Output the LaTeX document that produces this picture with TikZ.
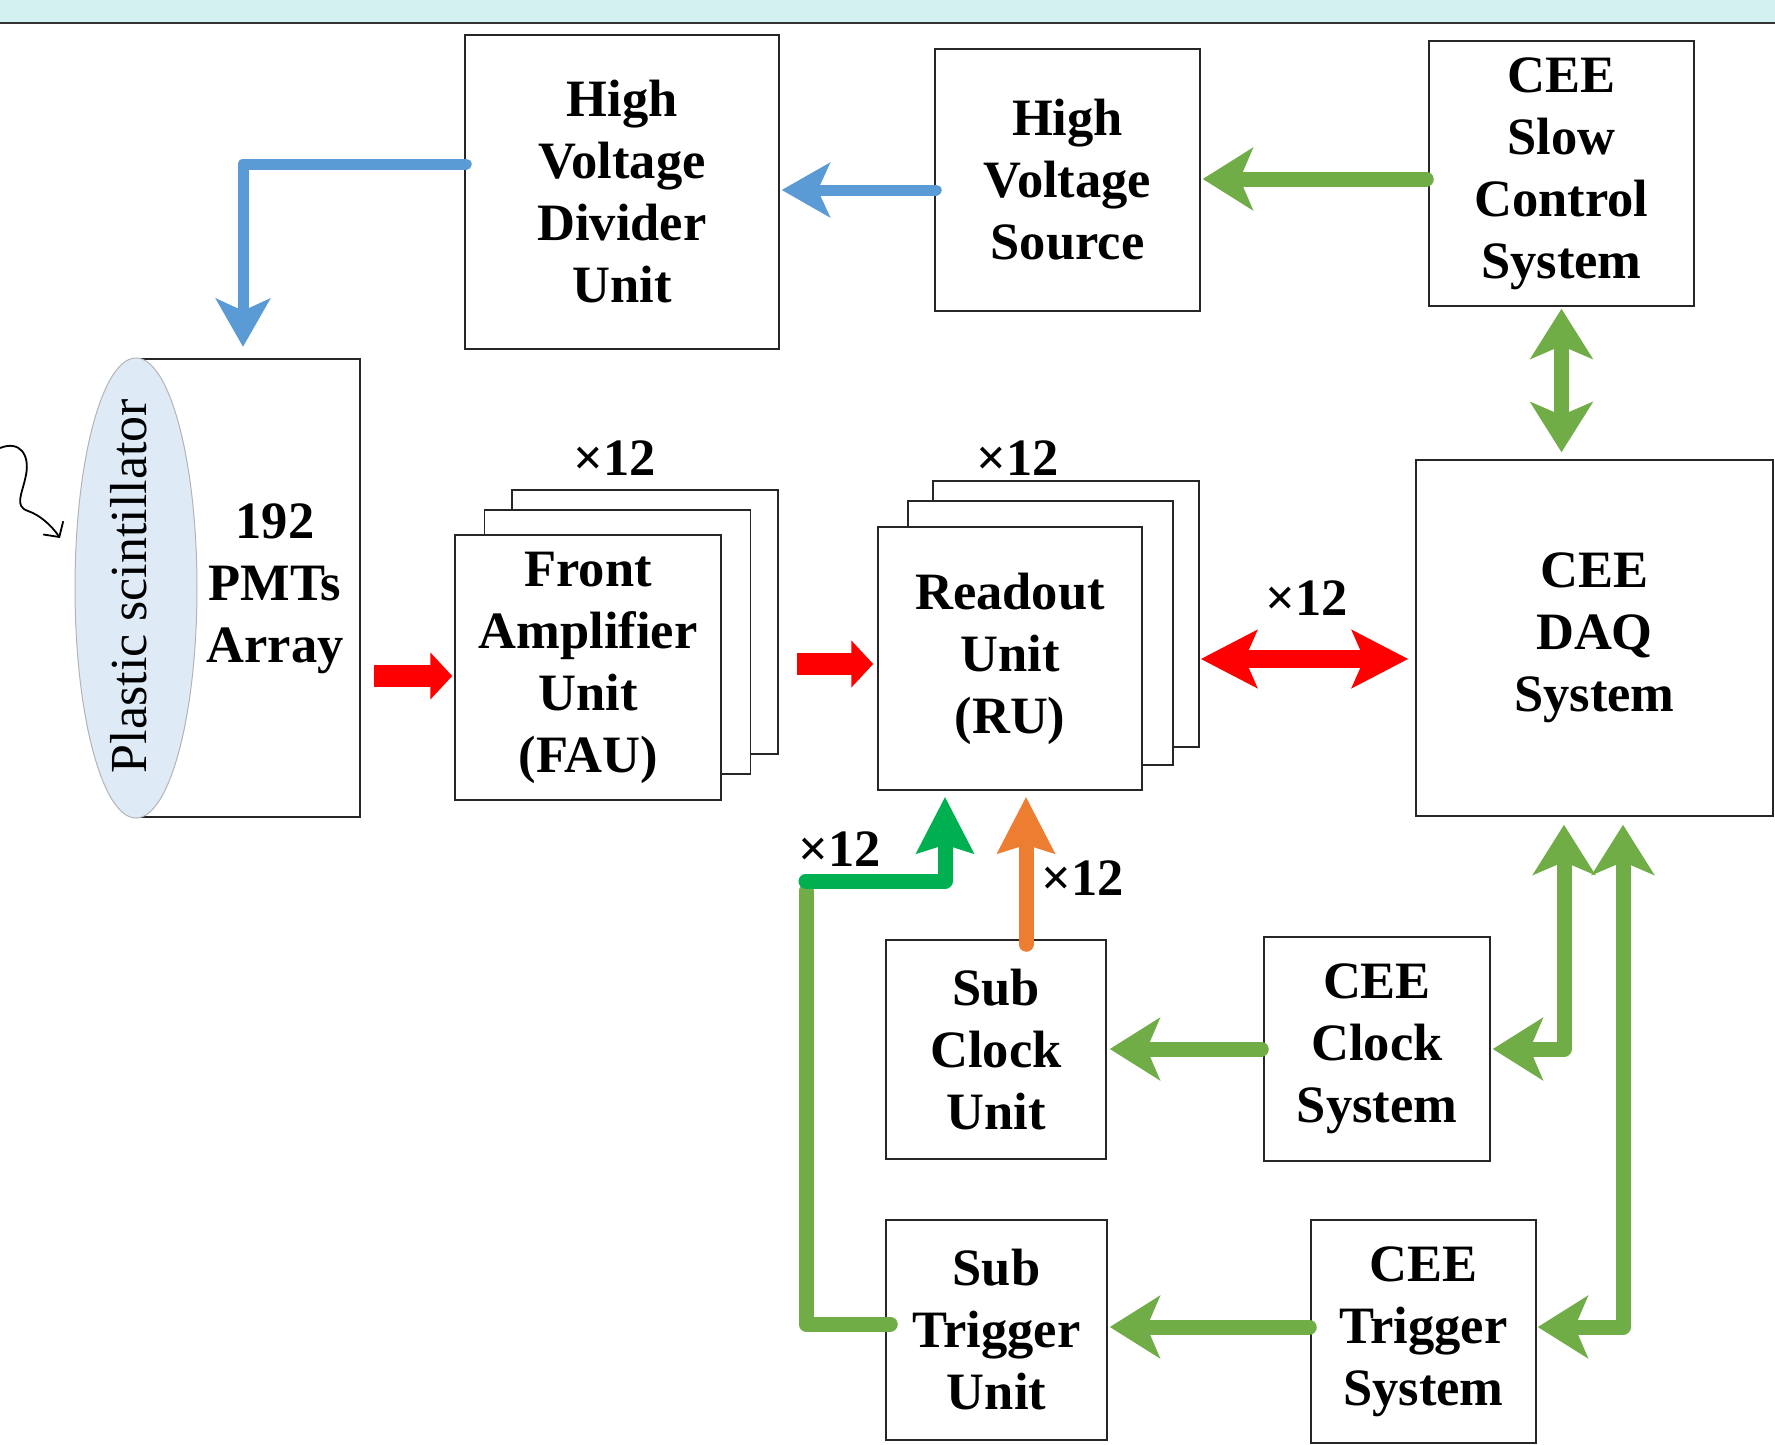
\documentclass[tikz,border=0pt]{standalone}
\usepackage{fontspec}
\setmainfont{Liberation Serif}
\usetikzlibrary{arrows.meta,shapes.geometric,calc}

\definecolor{bandcyan}{HTML}{D3F0F0}
\definecolor{hvblue}{HTML}{5B9BD5}
\definecolor{ctrlgreen}{HTML}{70AD47}
\definecolor{trgreen}{HTML}{00B050}
\definecolor{clkorange}{HTML}{ED7D31}
\definecolor{sigred}{HTML}{FF0000}
\definecolor{scintfill}{HTML}{DEEBF7}
\definecolor{scintedge}{HTML}{B4B4B4}

\newcommand\boxfont{\bfseries\fontsize{52.5}{62}\selectfont}
\newcommand\plainfont{\fontsize{52}{62}\selectfont}

\tikzset{
  btip/.tip={Stealth[length=48pt,width=54pt,inset=12pt]},
  gtip/.tip={Stealth[length=50pt,width=62pt,inset=13pt]},
  stip/.tip={Stealth[length=56pt,width=56pt,inset=8pt]},
  rtip/.tip={Triangle[length=22pt,width=46pt]},
  rdtip/.tip={Stealth[length=56pt,width=57pt,inset=12pt]},
}

\begin{document}
\begin{tikzpicture}[x=1pt,y=-1pt,
  unitbox/.style={draw=black!85, line width=1.5pt, fill=white, align=center,
                  font=\boxfont, inner sep=0pt},
  mult/.style={font=\boxfont, inner sep=0pt},
  bluearrow/.style={draw=hvblue, line width=11pt, line cap=round, line join=round, -btip},
  greenarrow/.style={draw=ctrlgreen, line width=15pt, line cap=round, line join=round},
  trigarrow/.style={draw=trgreen, line width=15pt, line cap=round, line join=round, -stip},
  clkarrow/.style={draw=clkorange, line width=15pt, line cap=round, -stip},
  redarrow/.style={draw=sigred, line width=22pt, -rtip},
  reddouble/.style={draw=sigred, line width=18pt, rdtip-rdtip},
]
\useasboundingbox (0,0) rectangle (1775,1445);

% title band
\fill[bandcyan] (0,0) rectangle (1775,22);
\draw[line width=2.5pt, black!80] (0,23) -- (1775,23);

% high voltage chain
\node[unitbox, minimum width=314pt, minimum height=314pt] (hvd) at (622,192) {High\\Voltage\\Divider\\Unit};
\node[unitbox, minimum width=265pt, minimum height=262pt] (hvs) at (1067.5,180) {High\\Voltage\\Source};
\node[unitbox, minimum width=265pt, minimum height=265pt] (slow) at (1561.5,173.5) {CEE\\Slow\\Control\\System};

% PMT array with scintillator
\node[minimum width=224pt, minimum height=458pt, inner sep=0pt] (pmtbox) at (248,588) {};
\draw[draw=black!85, line width=1.5pt] (pmtbox.north west) -- (pmtbox.north east)
      -- (pmtbox.south east) -- (pmtbox.south west);
\node[ellipse, draw=scintedge, line width=1pt, fill=scintfill, minimum width=122pt,
      minimum height=460pt, inner sep=0pt] (scint) at (136,588) {};
\node[rotate=90, font=\plainfont, inner sep=0pt] (scintlabel) at (129,586) {Plastic scintillator};
\node[align=center, font=\boxfont, inner sep=0pt] (pmtlabel) at (275,589) {192\\PMTs\\Array};

% incoming particle
\coordinate (particle) at (0,448);
\coordinate (hit) at (60,538);
\draw[line width=1.8pt, -{Straight Barb[length=11pt,width=24pt]}] (particle)
  .. controls (20,440) and (30,455) .. (26,475)
  .. controls (22,495) and (14,506) .. (28,511)
  .. controls (40,515) and (52,526) .. (hit);

% front amplifier stack
\node[unitbox, minimum width=266pt, minimum height=264pt] (faub) at (645,622) {};
\node[unitbox, minimum width=266pt, minimum height=264pt] (faum) at (617.5,642) {};
\node[unitbox, minimum width=266pt, minimum height=265pt] (fau) at (588,667.5) {Front\\Amplifier\\Unit\\(FAU)};
\node[mult] (faumult) at (615,458) {×12};

% readout stack
\node[unitbox, minimum width=266pt, minimum height=266pt] (rub) at (1066,614) {};
\node[unitbox, minimum width=265pt, minimum height=264pt] (rum) at (1040.5,633) {};
\node[unitbox, minimum width=264pt, minimum height=263pt] (ru) at (1010,658.5) {Readout\\Unit\\(RU)};
\node[mult] (rumult) at (1018,458) {×12};

% DAQ
\node[unitbox, minimum width=357pt, minimum height=356pt] (daq) at (1594.5,638) {CEE\\DAQ\\System};

% clock and trigger
\node[unitbox, minimum width=220pt, minimum height=219pt] (subclk) at (996,1049.5) {Sub\\Clock\\Unit};
\node[unitbox, minimum width=226pt, minimum height=224pt] (ceeclk) at (1377,1049) {CEE\\Clock\\System};
\node[unitbox, minimum width=221pt, minimum height=220pt] (subtrg) at (996.5,1330) {Sub\\Trigger\\Unit};
\node[unitbox, minimum width=225pt, minimum height=223pt] (ceetrg) at (1423.5,1331.5) {CEE\\Trigger\\System};

% high voltage connectors
\coordinate (hvbend) at (243,164);
\draw[bluearrow] ([xshift=2pt]hvd.west |- hvbend) -- (hvbend) -- ([yshift=12pt]hvbend |- pmtbox.north);
\draw[bluearrow] ([xshift=2pt]hvs.west |- 0,190) -- ([xshift=2pt]hvd.east |- 0,190);
\draw[greenarrow, -gtip] ([xshift=-2pt]slow.west |- 0,179) -- ([xshift=2pt]hvs.east |- 0,179);
\draw[greenarrow, gtip-gtip] ([yshift=-2pt]slow.south) -- ([yshift=7pt]slow.south |- daq.north);

% signal path
\draw[redarrow] ([xshift=14pt]pmtbox.east |- 0,676) -- ([xshift=-2pt]fau.west |- 0,676);
\draw[redarrow] ([xshift=18pt]faub.east |- 0,664) -- ([xshift=-4pt]ru.west |- 0,664);
\draw[reddouble] ([xshift=1pt]rub.east |- 0,659) -- ([xshift=-7pt]daq.west |- 0,659);
\node[mult] (daqmult) at (1307,598) {×12};

% clock distribution
\draw[clkarrow] ([yshift=-5pt]subclk.north -| 1026,0) -- ([yshift=-6pt]ru.south -| 1026,0);
\node[mult] (clkmult) at (1083,878) {×12};
\draw[greenarrow, -gtip] ([xshift=-2pt]ceeclk.west) -- ([xshift=3pt]subclk.east |- ceeclk.west);
\coordinate (clkbend) at (1564,1049);
\draw[greenarrow, gtip-gtip] ([yshift=-8pt]daq.south -| clkbend) -- (clkbend) -- ([xshift=2pt]ceeclk.east |- clkbend);

% trigger distribution
\coordinate (trgbend) at (806,1324);
\coordinate (trgturn) at (806,881);
\draw[greenarrow] ([xshift=5pt]subtrg.west |- trgbend) -- (trgbend) -- ([yshift=-10pt]trgturn);
\draw[trigarrow] (trgturn) -- (945,881) -- ([yshift=-6pt]ru.south -| 945,0);
\node[mult] (trgmult) at (840,849) {×12};
\draw[greenarrow, -gtip] ([xshift=-1pt]ceetrg.west |- 0,1327) -- ([xshift=2pt]subtrg.east |- 0,1327);
\coordinate (daqbend) at (1623,1327);
\draw[greenarrow, gtip-gtip] ([yshift=-8pt]daq.south -| daqbend) -- (daqbend) -- ([xshift=1pt]ceetrg.east |- daqbend);
\end{tikzpicture}
\end{document}
